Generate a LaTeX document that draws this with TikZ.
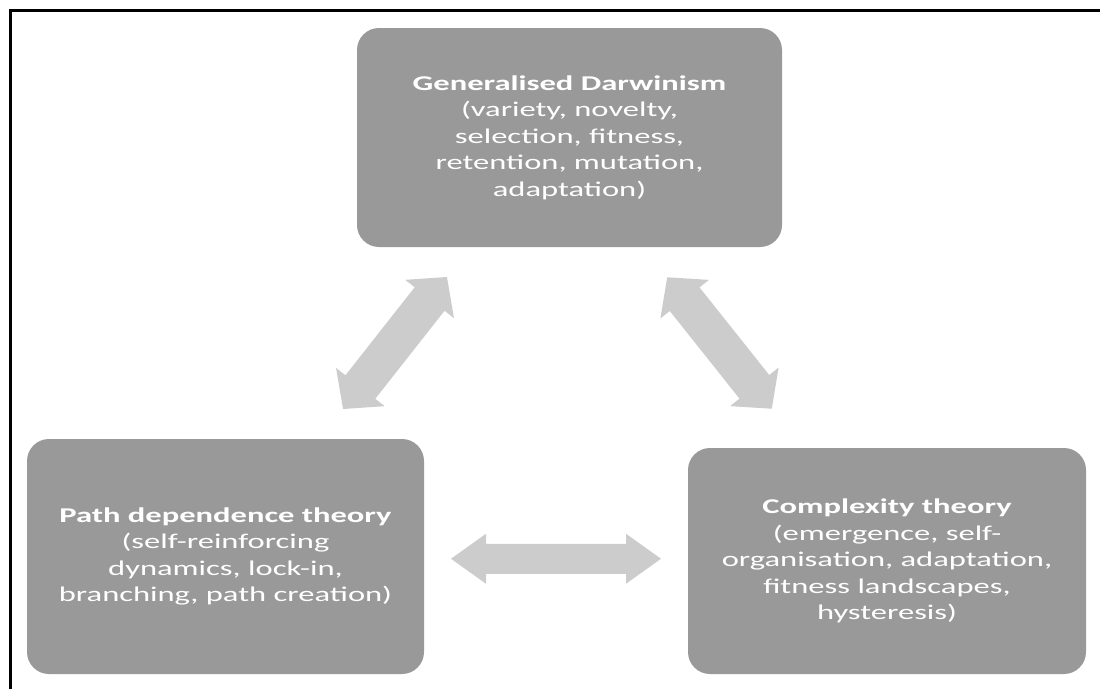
\documentclass[tikz,border=0pt]{standalone}
\usepackage{fontspec}
\setmainfont{Carlito}[FakeStretch=1.55]
\usetikzlibrary{calc}
\definecolor{boxgray}{HTML}{999999}
\definecolor{arrowgray}{HTML}{CCCCCC}
% block arrow with heads at both ends, centred on the origin, pointing along x
% #1 total length, #2 shaft half width, #3 head half width, #4 head length
\newcommand\twowayarrow[4]{%
  \fill[arrowgray] (-#1/2,0) -- (-#1/2+#4,#3) -- (-#1/2+#4,#2) -- (#1/2-#4,#2)
    -- (#1/2-#4,#3) -- (#1/2,0) -- (#1/2-#4,-#3) -- (#1/2-#4,-#2)
    -- (-#1/2+#4,-#2) -- (-#1/2+#4,-#3) -- cycle;}
\begin{document}
\begin{tikzpicture}[x=1pt,y=-1pt,
  theory/.style={draw=none, fill=boxgray, rounded corners=22pt, text=white,
    align=center, inner sep=0pt, font=\fontsize{21}{26.5}\selectfont}
]
\useasboundingbox (0,0) rectangle (1100,689);

% frame (left and top edges)
\draw[line width=3pt] (10.5,689) -- (10.5,10) -- (1100,10);

% the three theories
\node[theory, minimum width=425pt, minimum height=219pt] (gd) at (569.5,137.5)
  {\textbf{Generalised Darwinism}\\(variety, novelty,\\selection, fitness,\\retention, mutation,\\adaptation)};
\node[theory, minimum width=397pt, minimum height=235pt] (pd) at (225.5,556.5)
  {\textbf{Path dependence theory}\\(self-reinforcing\\dynamics, lock-in,\\branching, path creation)};
\node[theory, minimum width=398pt, minimum height=226pt] (ct) at (887,561)
  {\textbf{Complexity theory}\\(emergence, self-\\organisation, adaptation,\\fitness landscapes,\\hysteresis)};

% two-way links between them
\coordinate (pdct) at ($(pd.east)!0.5!(ct.west)$);
\coordinate (gdpd) at (395,343);
\coordinate (gdct) at (719.5,343);
\begin{scope}[shift={(pdct)}]
  \twowayarrow{210}{15}{25}{35}
\end{scope}
\begin{scope}[shift={(gdpd)}, rotate=51.8]
  \twowayarrow{168}{19}{31}{28}
\end{scope}
\begin{scope}[shift={(gdct)}, rotate=-51.5]
  \twowayarrow{168}{19}{31}{28}
\end{scope}
\end{tikzpicture}
\end{document}
